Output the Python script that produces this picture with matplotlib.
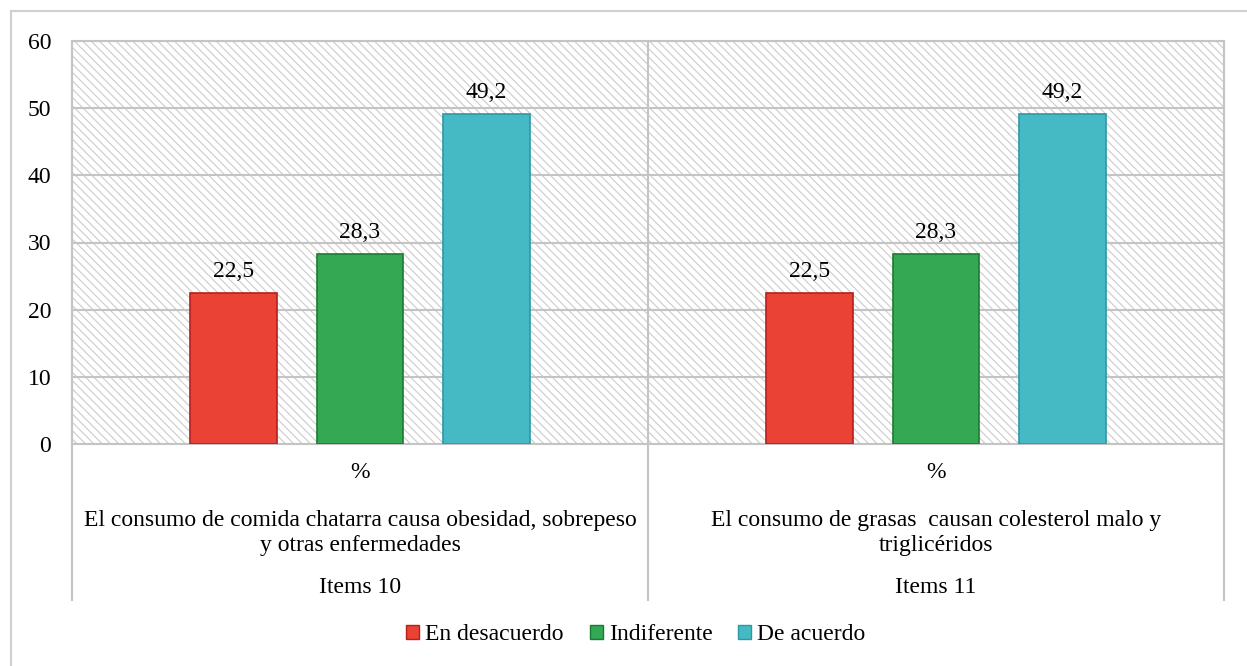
import matplotlib
matplotlib.use("Agg")
import matplotlib.pyplot as plt
from matplotlib.lines import Line2D
from matplotlib.patches import Patch, Rectangle

plt.rcParams["font.family"] = ["Liberation Serif", "DejaVu Serif"]
plt.rcParams["hatch.linewidth"] = 0.8

# data
SERIES = ["En desacuerdo", "Indiferente", "De acuerdo"]
VALUES = {
    "En desacuerdo": [22.5, 22.5],
    "Indiferente": [28.3, 28.3],
    "De acuerdo": [49.2, 49.2],
}
SUBLABEL = ["%", "%"]
DESCRIPTIONS = [
    "El consumo de comida chatarra causa obesidad, sobrepeso\ny otras enfermedades",
    "El consumo de grasas  causan colesterol malo y\ntriglicéridos",
]
ITEMS = ["Items 10", "Items 11"]
Y_TICKS = [0, 10, 20, 30, 40, 50, 60]

FACE = {"En desacuerdo": "#EA4335", "Indiferente": "#34A853", "De acuerdo": "#46BAC4"}
EDGE = {"En desacuerdo": "#B3211A", "Indiferente": "#1C7A34", "De acuerdo": "#2C98A3"}
GRID = "#c4c4c4"
FS = 17

W, H = 1247, 666
fig = plt.figure(figsize=(W / 100, H / 100), dpi=100)
left, right, top, bottom = 72, 1224, 41, 444
ax = fig.add_axes([left / W, 1 - bottom / H, (right - left) / W, (bottom - top) / H])

# hatched background
bg = Rectangle((0, 0), 1, 1, transform=ax.transAxes, facecolor="white",
               edgecolor="#cccccc", hatch="\\\\\\\\", linewidth=0, zorder=0)
ax.add_patch(bg)
ax.patch.set_visible(False)

n = len(ITEMS)
centers = [i + 0.5 for i in range(n)]
offset = 0.2196
width = 0.151
for k, name in enumerate(SERIES):
    xs = [c + (k - 1) * offset for c in centers]
    ax.bar(xs, VALUES[name], width=width, color=FACE[name], edgecolor=EDGE[name],
           linewidth=1.2, zorder=3)
    for x, v in zip(xs, VALUES[name]):
        ax.text(x, v + 1.6, f"{v:.1f}".replace(".", ","), ha="center", va="bottom",
                fontsize=FS, zorder=4)

ax.set_xlim(0, n)
ax.set_ylim(0, 60)
ax.set_yticks(Y_TICKS)
ax.set_xticks([])
ax.tick_params(axis="y", length=0, pad=15, labelsize=FS)
ax.yaxis.grid(True, color=GRID, linewidth=1.5, zorder=1)
ax.set_axisbelow(True)
for s in ax.spines.values():
    s.set_color(GRID)
    s.set_linewidth(1.5)

# category separators extending below the axes
xt = ax.get_xaxis_transform()
for x in range(n + 1):
    ax.add_line(Line2D([x, x], [-0.387, 1], transform=xt, color=GRID,
                       linewidth=1.5, clip_on=False, zorder=2))

for c, sub, desc, item in zip(centers, SUBLABEL, DESCRIPTIONS, ITEMS):
    ax.text(c, -0.0695, sub, transform=xt, ha="center", va="center", fontsize=FS)
    ax.text(c, -0.22, desc, transform=xt, ha="center", va="center", fontsize=FS,
            linespacing=1.25, multialignment="center")
    ax.text(c, -0.355, item, transform=xt, ha="center", va="center", fontsize=FS)

# outer chart border (only left and top visible)
fig.add_artist(Line2D([11 / W, 11 / W], [0, 1 - 11 / H], transform=fig.transFigure,
                      color="#d0d0d0", linewidth=1.5))
fig.add_artist(Line2D([11 / W, 1], [1 - 11 / H, 1 - 11 / H], transform=fig.transFigure,
                      color="#d0d0d0", linewidth=1.5))

handles = [Patch(facecolor=FACE[s], edgecolor=EDGE[s], linewidth=1, label=s) for s in SERIES]
fig.legend(handles=handles, loc="center", bbox_to_anchor=(636 / W, 1 - 635 / H),
           ncol=3, frameon=False, fontsize=FS, handlelength=0.55, handleheight=0.55,
           handletextpad=0.25, columnspacing=1.1)

fig.savefig("out.png", dpi=100)
